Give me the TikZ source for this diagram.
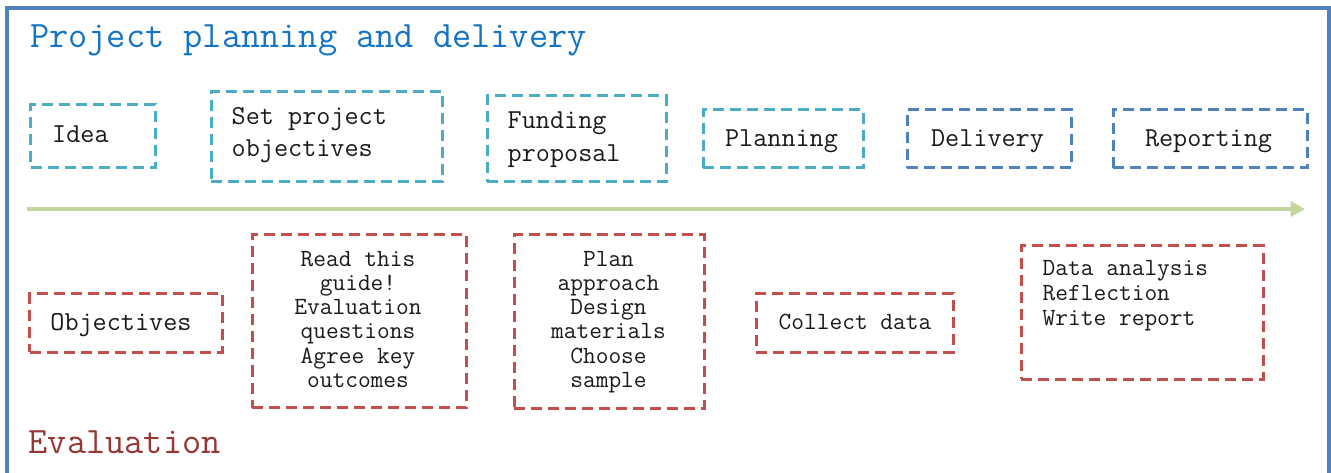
\documentclass[tikz,border=0pt]{standalone}
\usepackage{fontspec}
\usetikzlibrary{arrows.meta}

\definecolor{framecol}{RGB}{79,129,189}
\definecolor{cyanbox}{RGB}{75,172,198}
\definecolor{bluebox}{RGB}{79,129,189}
\definecolor{redbox}{RGB}{192,80,77}
\definecolor{titleblue}{RGB}{20,116,196}
\definecolor{evalred}{RGB}{149,55,53}
\definecolor{arrowgreen}{RGB}{195,214,155}
\definecolor{inktext}{RGB}{25,25,25}

% typewriter faces for headings and box texts
\newcommand\headfont{\fontsize{37.4}{40}\selectfont\ttfamily}
\newcommand\bigfont{\fontsize{27.5}{32.6}\selectfont\ttfamily}
\newcommand\smallfont{\fontsize{24.8}{24.3}\selectfont\ttfamily}
% fixed height for the first line of every box text
\newcommand\firstline{\rule{0pt}{22bp}}

\tikzset{
  framebox/.style={draw=#1, line width=3bp, dash pattern=on 11bp off 6bp,
                   inner sep=0pt, outer sep=0pt, rectangle},
  cbox/.style={framebox=cyanbox},
  bbox/.style={framebox=bluebox},
  rbox/.style={framebox=redbox},
  bigtxt/.style={inner sep=0pt, text=inktext, font=\bigfont},
  smalltxt/.style={inner sep=0pt, text=inktext, font=\smallfont},
  headtxt/.style={inner sep=0pt, font=\headfont},
  timeline/.style={draw=arrowgreen, line width=4.5bp,
                   -{Triangle[length=14.5bp, width=15bp]}},
}

\begin{document}
\begin{tikzpicture}[x=1bp, y=-1bp]
  \useasboundingbox (0,0) rectangle (1331,473);

  % outer frame, open at the bottom
  \draw[framecol, line width=3.5bp] (7,490) -- (7,8) -- (1329,8) -- (1329,490);

  % headings
  \node[headtxt, text=titleblue, anchor=base west] (plantitle) at (30,47.5)
       {Project planning and delivery};
  \node[headtxt, text=evalred, anchor=base west] (evaltitle) at (28.5,453)
       {Evaluation};

  % project stages
  \node[cbox, minimum width=124bp, minimum height=63bp] (ideabox) at (93,136.5) {};
  \node[cbox, minimum width=231bp, minimum height=90.5bp] (objbox) at (326.5,136.75) {};
  \node[cbox, minimum width=179bp, minimum height=86bp] (fundbox) at (576.5,139) {};
  \node[cbox, minimum width=160bp, minimum height=58bp] (planbox) at (783,139) {};
  \node[bbox, minimum width=164bp, minimum height=58bp] (delbox) at (989,139) {};
  \node[bbox, minimum width=194bp, minimum height=58bp] (repbox) at (1210,139) {};

  \node[bigtxt, anchor=north west] (idea) at (52,120.5) {\firstline Idea};
  \node[bigtxt, anchor=north west, align=left] (setobj) at (231.5,102.3)
       {\firstline Set project\\objectives};
  \node[bigtxt, anchor=north west, align=left] (funding) at (507.5,106.5)
       {\firstline Funding\\proposal};
  \node[bigtxt, anchor=north] (planning) at (781.5,124.5) {\firstline Planning};
  \node[bigtxt, anchor=north] (delivery) at (987.5,124.5) {\firstline Delivery};
  \node[bigtxt, anchor=north] (reporting) at (1208.5,124.5) {\firstline Reporting};

  % time axis
  \coordinate (tstart) at (27,209);
  \coordinate (tend) at (1305,209);
  \draw[timeline] (tstart) -- (tend);

  % evaluation steps
  \node[rbox, minimum width=192bp, minimum height=58.5bp] (evobjbox) at (126,322.75) {};
  \node[rbox, minimum width=214bp, minimum height=172.5bp] (guidebox) at (359,321.25) {};
  \node[rbox, minimum width=190bp, minimum height=173bp] (approachbox) at (609,321.5) {};
  \node[rbox, minimum width=197bp, minimum height=58bp] (collectbox) at (854.5,323) {};
  \node[rbox, minimum width=242bp, minimum height=133bp] (analysisbox) at (1142,312.5) {};

  \node[bigtxt, anchor=north west] (evobj) at (50.2,308.5) {\firstline Objectives};
  \node[smalltxt, anchor=north, align=center] (guide) at (358,244)
       {\firstline Read this\\guide!\\Evaluation\\questions\\Agree key\\outcomes};
  \node[smalltxt, anchor=north, align=center] (approach) at (608.5,244)
       {\firstline Plan\\approach\\Design\\materials\\Choose\\sample};
  \node[smalltxt, anchor=north] (collect) at (855,307.3) {\firstline Collect data};
  \node[smalltxt, anchor=north west, align=left, font=\fontsize{24.8}{25}\selectfont\ttfamily]
       (analysis) at (1042.5,253.7)
       {\firstline Data analysis\\Reflection\\Write report};
\end{tikzpicture}
\end{document}
